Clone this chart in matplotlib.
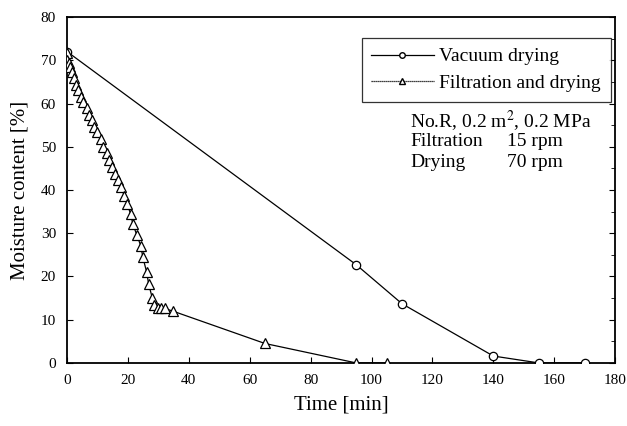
import numpy as np
import matplotlib.pyplot as plt
from matplotlib.lines import Line2D
from matplotlib.ticker import MultipleLocator

plt.rcParams['font.family'] = ['Liberation Serif', 'DejaVu Serif']
plt.rcParams['mathtext.fontset'] = 'stix'

# Vacuum drying only
t_vac = [0, 95, 110, 140, 155, 170]
w_vac = [72.0, 22.7, 13.7, 1.6, 0.0, 0.0]

# Filtration followed by drying in the same unit
t_fd = [0, 0.1, 0.5, 1.0, 1.5, 2.3, 2.9, 3.7, 4.5, 5.3, 6.4, 7.3, 8.1, 8.9, 9.9,
        11.0, 11.9, 13.0, 13.8, 14.9, 15.7, 16.8, 17.6, 18.8, 19.7, 20.9, 21.6,
        22.9, 24.2, 24.9, 26.1, 26.8, 28.0, 28.7, 29.8, 30.7, 32.0, 34.7,
        65, 95, 105]
w_fd = [71.6, 70.1, 69.3, 68.5, 67.4, 65.8, 64.3, 63.1, 61.6, 60.4, 58.9, 57.3, 56.2,
        54.6, 53.5, 51.9, 50.0, 48.5, 46.9, 45.4, 43.8, 42.3, 40.8, 38.7, 36.8,
        34.4, 32.1, 29.6, 27.1, 24.4, 21.1, 18.2, 15.0, 13.4, 12.8, 12.8, 12.6,
        12.0, 4.5, 0.0, 0.0]

fig = plt.figure(figsize=(6.27, 4.26), dpi=100)
ax = fig.add_axes([0.107, 0.148, 0.874, 0.812])

ax.plot(t_vac, w_vac, color='black', lw=0.9, marker='o', ms=6,
        mfc='white', mec='black', mew=0.9, zorder=3)
ax.plot(t_fd, w_fd, color='black', lw=0.9, marker='^', ms=7,
        mfc='white', mec='black', mew=0.9, zorder=3)

ax.set_xlim(0, 180)
ax.set_ylim(0, 80)
ax.xaxis.set_major_locator(MultipleLocator(20))
ax.yaxis.set_major_locator(MultipleLocator(10))
ax.yaxis.set_minor_locator(MultipleLocator(5))
ax.tick_params(direction='in', labelsize=11, length=4, width=0.8,
               right=True, pad=8)
ax.tick_params(axis='y', which='minor', direction='in', length=3,
               left=False, right=True)
for s in ax.spines.values():
    s.set_linewidth(1.3)

ax.set_xlabel('Time [min]', fontsize=15, labelpad=6)
ax.set_ylabel('Moisture content [%]', fontsize=15, labelpad=8)

handles = [
    Line2D([], [], color='black', lw=0.9, marker='o', ms=4, mfc='white'),
    Line2D([], [], color='black', lw=0.9, ls=(0, (1, 0.6)), marker='^', ms=4,
           mfc='white'),
]
leg = ax.legend(handles, ['Vacuum drying', 'Filtration and drying'],
                loc='upper right', bbox_to_anchor=(0.992, 0.939),
                borderaxespad=0, fontsize=14, frameon=True, fancybox=False,
                edgecolor='black', handlelength=3.2, handletextpad=0.3,
                borderpad=0.5, labelspacing=0.45)
leg.get_frame().set_linewidth(0.9)

rows = [0.702, 0.641, 0.580]
ax.text(0.626, rows[0], 'No.R, 0.2 m$^2$, 0.2 MPa', transform=ax.transAxes,
        fontsize=14, va='center')
ax.text(0.626, rows[1], 'Filtration', transform=ax.transAxes, fontsize=14, va='center')
ax.text(0.802, rows[1], '15 rpm', transform=ax.transAxes, fontsize=14, va='center')
ax.text(0.626, rows[2], 'Drying', transform=ax.transAxes, fontsize=14, va='center')
ax.text(0.802, rows[2], '70 rpm', transform=ax.transAxes, fontsize=14, va='center')

fig.savefig('out.png', dpi=100)
